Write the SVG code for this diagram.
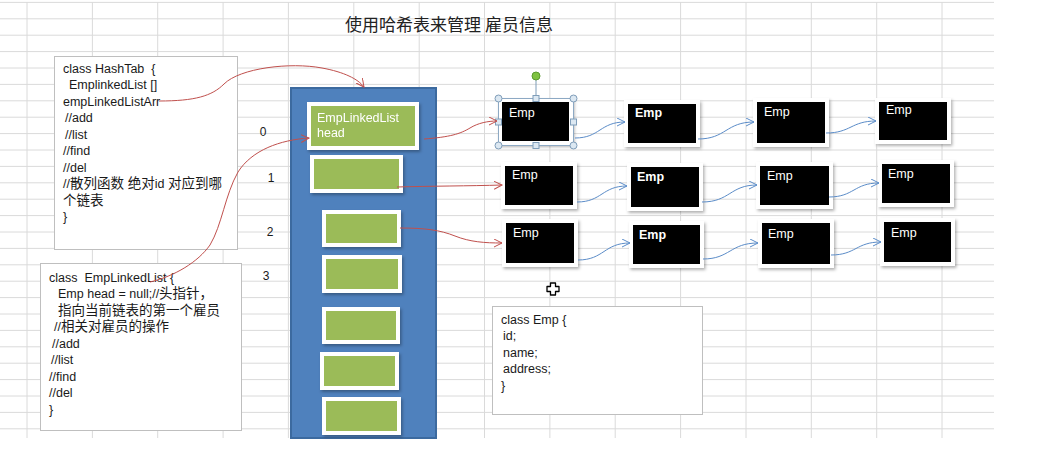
<svg xmlns="http://www.w3.org/2000/svg" width="1055" height="449" viewBox="0 0 1055 449">
<defs>
<style>
.t{font-family:"Liberation Sans","Noto Sans CJK SC",sans-serif;font-size:12.5px;fill:#1a1a1a}
.cj{font-size:13.5px}
.w{font-family:"Liberation Sans",sans-serif;font-size:12.5px;fill:#ffffff}
.wb{font-weight:bold}
.box{fill:#ffffff;stroke:#bfbfbf;stroke-width:1}
.grn{fill:#9bbb59;stroke:#ffffff;stroke-width:4}
.blk{fill:#000000;stroke:#ffffff;stroke-width:4}
.red{fill:none;stroke:#c0504d;stroke-width:1}
.blu{fill:none;stroke:#5b8cc8;stroke-width:1}
.num{font-family:"Liberation Sans",sans-serif;font-size:12px;fill:#1a1a1a;text-anchor:middle}
.hdl{fill:#dce8f2;stroke:#7f9db9;stroke-width:1}
</style>
<filter id="sh" x="-20%" y="-20%" width="150%" height="160%">
<feDropShadow dx="1.5" dy="2" stdDeviation="1.5" flood-color="#000" flood-opacity="0.3"/>
</filter>
<marker id="ar" markerWidth="10" markerHeight="10" refX="8" refY="4" orient="auto" markerUnits="userSpaceOnUse">
<path d="M0,0 L8,4 L0,8" fill="none" stroke="#c0504d" stroke-width="1"/>
</marker>
<marker id="ab" markerWidth="10" markerHeight="10" refX="8" refY="4" orient="auto" markerUnits="userSpaceOnUse">
<path d="M0,0 L8,4 L0,8" fill="none" stroke="#5b8cc8" stroke-width="1"/>
</marker>
</defs>
<rect width="1055" height="449" fill="#ffffff"/>
<g id="grid" stroke="#dadada" stroke-width="1" fill="none">
<path d="M0 2.4H994M0 18.8H994M0 35.2H994M0 51.6H994M0 68H994M0 84.4H994M0 100.8H994M0 117.2H994M0 133.6H994M0 150H994M0 166.4H994M0 182.8H994M0 199.2H994M0 215.6H994M0 232H994M0 248.4H994M0 264.8H994M0 281.2H994M0 297.6H994M0 314H994M0 330.4H994M0 346.8H994M0 363.2H994M0 379.6H994M0 396H994M0 412.4H994M0 428.8H994"/>
<path d="M27 2V438M92.4 2V438M157.7 2V438M223.1 2V438M288.4 2V438M353.8 2V438M419.2 2V438M484.5 2V438M549.9 2V438M615.2 2V438M680.6 2V438M746 2V438M811.3 2V438M876.7 2V438M942 2V438"/>
</g>
<text id="title" x="449" y="31" text-anchor="middle" style="font-family:'Noto Sans CJK SC',sans-serif;font-size:17px;fill:#222">使用哈希表来管理 雇员信息</text>
<g id="hashtab">
<rect class="box" x="54.5" y="56.5" width="183" height="193"/>
<text class="t" xml:space="preserve"><tspan x="63" y="72.5">class HashTab  {</tspan><tspan x="69" y="89">EmplinkedList []</tspan><tspan x="63" y="105.5">empLinkedListArr</tspan><tspan x="65" y="122">//add</tspan><tspan x="65" y="138.5">//list</tspan><tspan x="63" y="155">//find</tspan><tspan x="63" y="171.5">//del</tspan><tspan x="63" y="188">//<tspan class="cj">散列函数 绝对</tspan>id <tspan class="cj">对应到哪</tspan></tspan><tspan x="63" y="204.5" class="cj">个链表</tspan><tspan x="63" y="221">}</tspan></text>
</g>
<g id="emplinkedlist">
<rect class="box" x="40.5" y="263.5" width="201" height="167"/>
<text class="t" xml:space="preserve"><tspan x="49" y="281.5">class  EmpLinkedList {</tspan><tspan x="58" y="298">Emp head = null;//<tspan class="cj">头指针，</tspan></tspan><tspan x="58" y="314.5" class="cj">指向当前链表的第一个雇员</tspan><tspan x="54" y="331">//<tspan class="cj">相关对雇员的操作</tspan></tspan><tspan x="52" y="347.5">//add</tspan><tspan x="51" y="364">//list</tspan><tspan x="49" y="380.5">//find</tspan><tspan x="49" y="397">//del</tspan><tspan x="49" y="413.5">}</tspan></text>
</g>
<g id="indices">
<text class="num" x="263" y="135.5">0</text>
<text class="num" x="271" y="181.5">1</text>
<text class="num" x="270" y="235.5">2</text>
<text class="num" x="266" y="280">3</text>
</g>
<g id="array">
<rect x="291" y="88" width="145" height="350" fill="#4f81bd" stroke="#3c6a9f" stroke-width="2"/>
<g id="slot0" filter="url(#sh)"><rect class="grn" x="309" y="104" width="108" height="44"/><text class="w"><tspan x="317" y="122">EmpLinkedList</tspan><tspan x="317" y="137">head</tspan></text></g>
<g id="slot1" filter="url(#sh)"><rect class="grn" x="312" y="157" width="89" height="34"/></g>
<g id="slot2" filter="url(#sh)"><rect class="grn" x="324" y="212" width="75" height="33"/></g>
<g id="slot3" filter="url(#sh)"><rect class="grn" x="324" y="257" width="76" height="34"/></g>
<g id="slot4" filter="url(#sh)"><rect class="grn" x="324" y="309" width="74" height="33"/></g>
<g id="slot5" filter="url(#sh)"><rect class="grn" x="322" y="354" width="75" height="34"/></g>
<g id="slot6" filter="url(#sh)"><rect class="grn" x="324" y="399" width="75" height="34"/></g>
</g>
<g id="emp00"><rect class="blk" filter="url(#sh)" x="500" y="100" width="71" height="43"/><text class="w" x="509" y="117">Emp</text></g>
<g id="emp01"><rect class="blk" filter="url(#sh)" x="626" y="102" width="72" height="43"/><text class="w wb" x="635" y="117">Emp</text></g>
<g id="emp02"><rect class="blk" filter="url(#sh)" x="755" y="100" width="72" height="45"/><text class="w" x="764" y="116">Emp</text></g>
<g id="emp03"><rect class="blk" filter="url(#sh)" x="877" y="100" width="72" height="42"/><text class="w" x="886" y="114">Emp</text></g>
<g id="emp10"><rect class="blk" filter="url(#sh)" x="503" y="164" width="72" height="43"/><text class="w" x="512" y="179">Emp</text></g>
<g id="emp11"><rect class="blk" filter="url(#sh)" x="629" y="165" width="72" height="44"/><text class="w wb" x="637" y="181">Emp</text></g>
<g id="emp12"><rect class="blk" filter="url(#sh)" x="758" y="164" width="73" height="43"/><text class="w" x="767" y="180">Emp</text></g>
<g id="emp13"><rect class="blk" filter="url(#sh)" x="880" y="162" width="72" height="43"/><text class="w" x="888" y="178">Emp</text></g>
<g id="emp20"><rect class="blk" filter="url(#sh)" x="504" y="221" width="72" height="44"/><text class="w" x="513" y="237">Emp</text></g>
<g id="emp21"><rect class="blk" filter="url(#sh)" x="631" y="223" width="71" height="43"/><text class="w wb" x="639" y="239">Emp</text></g>
<g id="emp22"><rect class="blk" filter="url(#sh)" x="760" y="221" width="72" height="45"/><text class="w" x="768" y="238">Emp</text></g>
<g id="emp23"><rect class="blk" filter="url(#sh)" x="882" y="220" width="71" height="44"/><text class="w" x="891" y="237">Emp</text></g>
<g id="selection">
<rect x="498.5" y="98.5" width="75" height="47" fill="none" stroke="#8da9c4" stroke-width="1"/>
<line x1="536" y1="80" x2="536" y2="98" stroke="#7f9db9" stroke-width="1"/>
<circle cx="536" cy="76" r="4" fill="#7fc241" stroke="#5a9a2e" stroke-width="1"/>
<circle class="hdl" cx="498.5" cy="98.5" r="3.5"/><circle class="hdl" cx="573.5" cy="98.5" r="3.5"/>
<circle class="hdl" cx="498.5" cy="145.5" r="3.5"/><circle class="hdl" cx="573.5" cy="145.5" r="3.5"/>
<rect class="hdl" x="533" y="95.5" width="6" height="6"/><rect class="hdl" x="533" y="142.5" width="6" height="6"/>
<rect class="hdl" x="495.5" y="119" width="6" height="6"/><rect class="hdl" x="570.5" y="119" width="6" height="6"/>
</g>
<g id="classemp">
<rect class="box" x="492.5" y="306.5" width="210" height="108"/>
<text class="t"><tspan x="501" y="323.5">class Emp {</tspan><tspan x="503" y="340">id;</tspan><tspan x="503" y="356.5">name;</tspan><tspan x="503" y="373">address;</tspan><tspan x="501" y="389.5">}</tspan></text>
</g>
<g id="cursor">
<path d="M550.5,283 H555.5 V286.5 H559 V291.5 H555.5 V295 H550.5 V291.5 H547 V286.5 H550.5 Z" fill="#ffffff" stroke="#000000" stroke-width="1.3" stroke-linejoin="round"/>
</g>
<g id="connectors">
<path class="red" marker-end="url(#ar)" d="M159,101 C195,101 212,96 224,84 C240,68 290,62 322,68 C344,72 358,79 364,87"/>
<path class="red" marker-end="url(#ar)" d="M150,282 C175,276 198,262 210,245 C222,225 225,195 238,172 C252,150 280,140 309,138"/>
<path class="red" marker-end="url(#ar)" d="M424,139 C450,137 460,134 470,128 C478,123 488,121 497,121"/>
<path class="red" marker-end="url(#ar)" d="M397,187 C430,186 470,186 502,185"/>
<path class="red" marker-end="url(#ar)" d="M400,228 C425,228 440,230 455,236 C470,242 485,243 502,243"/>
<path class="blu" marker-end="url(#ab)" d="M575,138 C600,138 600,122 625,122"/>
<path class="blu" marker-end="url(#ab)" d="M698,139 C726,139 726,122 754,122"/>
<path class="blu" marker-end="url(#ab)" d="M826,133 C851,133 851,121 876,121"/>
<path class="blu" marker-end="url(#ab)" d="M577,202 C602,202 602,186 627,186"/>
<path class="blu" marker-end="url(#ab)" d="M702,202 C730,202 730,185 757,185"/>
<path class="blu" marker-end="url(#ab)" d="M829,197 C854,197 854,183 879,183"/>
<path class="blu" marker-end="url(#ab)" d="M578,260 C604,260 604,243 630,243"/>
<path class="blu" marker-end="url(#ab)" d="M703,259 C730,259 730,243 758,243"/>
<path class="blu" marker-end="url(#ab)" d="M831,255 C856,255 856,242 881,242"/>
</g>
</svg>
